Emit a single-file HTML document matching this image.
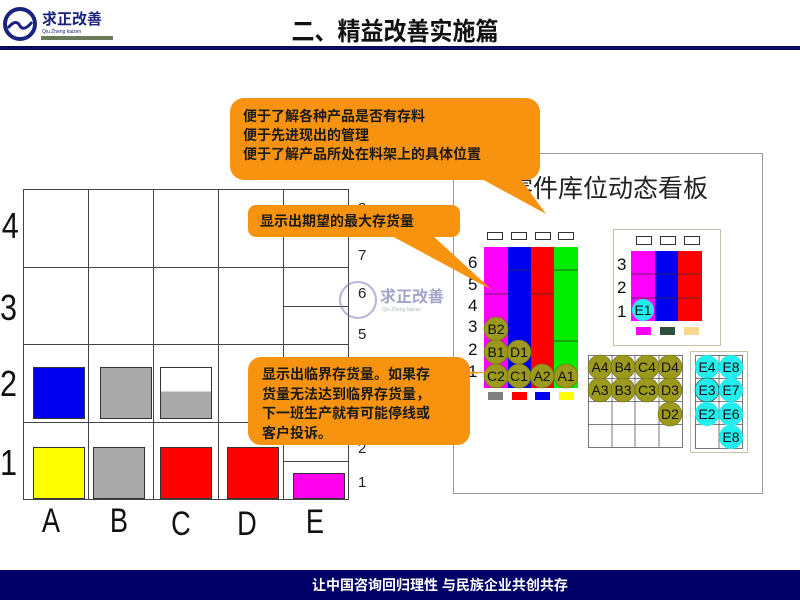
<!DOCTYPE html>
<html><head><meta charset="utf-8"><style>
html,body{margin:0;padding:0;background:#fff;}
svg{display:block;}
text{font-family:"Liberation Sans","Noto Sans CJK SC",sans-serif;}
</style></head><body>
<svg width="800" height="600" viewBox="0 0 800 600" xmlns="http://www.w3.org/2000/svg">
<!-- header -->
<circle cx="20" cy="24" r="15" fill="#fff" stroke="#1a237e" stroke-width="4"/>
<path d="M8 28 Q16 18 20 26 Q24 32 32 22" stroke="#1a237e" stroke-width="3" fill="none"/>
<text x="42" y="24" font-size="15" font-weight="bold" fill="#1a237e">求正改善</text>
<text x="42" y="33" font-size="5" fill="#1a237e">Qiu Zheng kaizen</text>
<rect x="41" y="36" width="72" height="4" fill="#6a7a5a"/>
<text x="395" y="40" font-size="25" font-weight="bold" text-anchor="middle" fill="#111" transform="translate(395 0) scale(0.92 1) translate(-395 0)">二、精益改善实施篇</text>
<rect x="0" y="46" width="800" height="4" fill="#0a0a5e"/>
<!-- footer -->
<rect x="0" y="570" width="800" height="30" fill="#000066"/>
<text x="440" y="590" font-size="14" font-weight="bold" text-anchor="middle" fill="#fff">让中国咨询回归理性  与民族企业共创共存</text>

<!-- left grid -->
<g stroke="#444" stroke-width="1" fill="none">
<rect x="23.5" y="189.5" width="325" height="310"/>
<line x1="88.5" y1="189" x2="88.5" y2="499"/>
<line x1="153.5" y1="189" x2="153.5" y2="499"/>
<line x1="218.5" y1="189" x2="218.5" y2="499"/>
<line x1="283.5" y1="189" x2="283.5" y2="499"/>
<line x1="23" y1="267.5" x2="348" y2="267.5"/>
<line x1="23" y1="344.5" x2="348" y2="344.5"/>
<line x1="23" y1="422.5" x2="348" y2="422.5"/>
<line x1="283" y1="306.5" x2="348" y2="306.5"/>
<line x1="283" y1="461.5" x2="348" y2="461.5"/>
</g>
<g stroke="#333" stroke-width="1">
<rect x="33.5" y="367.5" width="51" height="51" fill="#0000ee"/>
<rect x="100.5" y="367.5" width="51" height="51" fill="#aaaaaa"/>
<rect x="160.5" y="367.5" width="51" height="51" fill="#fff"/>
<rect x="160.5" y="391.5" width="51" height="27" fill="#aaaaaa" stroke="none"/>
<rect x="160.5" y="367.5" width="51" height="51" fill="none"/>
<rect x="33.5" y="447.5" width="51" height="51" fill="#ffff00"/>
<rect x="93.5" y="447.5" width="51" height="51" fill="#aaaaaa"/>
<rect x="160.5" y="447.5" width="51" height="51" fill="#ff0000"/>
<rect x="227.5" y="447.5" width="51" height="51" fill="#ff0000"/>
<rect x="293.5" y="473.5" width="51" height="25" fill="#ff00ee"/>
</g>
<g font-size="36" fill="#111" transform="scale(0.85 1)">
<text x="2" y="238">4</text><text x="0" y="320">3</text><text x="0" y="396">2</text><text x="0" y="475">1</text>
</g>
<g font-size="34" fill="#111" text-anchor="middle">
<text transform="translate(51 532) scale(0.8 1)">A</text>
<text transform="translate(119 532) scale(0.8 1)">B</text>
<text transform="translate(181 535) scale(0.8 1)">C</text>
<text transform="translate(247 535) scale(0.8 1)">D</text>
<text transform="translate(315 533) scale(0.8 1)">E</text>
</g>
<g font-size="15" fill="#222">
<text x="358" y="213">8</text><text x="358" y="260">7</text><text x="358" y="298">6</text><text x="358" y="339">5</text><text x="358" y="453">2</text><text x="358" y="487">1</text>
</g>
<!-- watermark -->
<g opacity="0.55">
<circle cx="358" cy="300" r="18" fill="none" stroke="#7a7ab8" stroke-width="2"/>
<text x="380" y="302" font-size="16" font-weight="bold" fill="#5a5aa0">求正改善</text>
<text x="382" y="311" font-size="5" fill="#6a7a8a">Qiu Zheng kaizen</text>
</g>

<!-- right panel -->
<rect x="453.5" y="153.5" width="309" height="340" fill="#fff" stroke="#999"/>
<text x="508" y="197" font-size="25" fill="#222" font-family="Liberation Serif,Noto Serif CJK SC,serif">零件库位动态看板</text>
<g fill="#fff" stroke="#333">
<rect x="487.5" y="232.5" width="15" height="7"/><rect x="511.5" y="232.5" width="15" height="7"/><rect x="535.5" y="232.5" width="15" height="7"/><rect x="558.5" y="232.5" width="15" height="7"/>
</g>
<rect x="484" y="247" width="24" height="141" fill="#ff00ff"/>
<rect x="508" y="247" width="23" height="141" fill="#0000ee"/>
<rect x="531" y="247" width="23" height="141" fill="#ff0000"/>
<rect x="554" y="247" width="24" height="141" fill="#00ee00"/>
<g stroke="#333" stroke-width="0.8">
<line x1="508" y1="270" x2="531" y2="270"/><line x1="554" y1="270" x2="578" y2="270"/>
<line x1="484" y1="294" x2="508" y2="294"/><line x1="531" y1="294" x2="554" y2="294"/>
<line x1="554" y1="341" x2="578" y2="341"/>
</g>
<g font-size="17" fill="#111">
<text x="468" y="268">6</text><text x="468" y="290">5</text><text x="468" y="311">4</text><text x="468" y="332">3</text><text x="468" y="355">2</text><text x="468" y="377">1</text>
</g>
<rect x="488" y="392" width="15" height="8" fill="#808080"/><rect x="512" y="392" width="15" height="8" fill="#ff0000"/><rect x="535" y="392" width="15" height="8" fill="#0000ee"/><rect x="559" y="392" width="15" height="8" fill="#ffff00"/>
<g fill="#9c9a1c" stroke="#6e6c10" stroke-width="0.6">
<circle cx="496" cy="329" r="12"/><circle cx="496" cy="352" r="12"/><circle cx="519" cy="352" r="12"/><circle cx="496" cy="376" r="12"/><circle cx="519" cy="376" r="12"/><circle cx="542" cy="376" r="12"/><circle cx="566" cy="376" r="12"/>
</g>
<g font-size="14" fill="#111" text-anchor="middle">
<text x="496" y="334">B2</text><text x="496" y="357">B1</text><text x="519" y="357">D1</text><text x="496" y="381">C2</text><text x="519" y="381">C1</text><text x="542" y="381">A2</text><text x="566" y="381">A1</text>
</g>

<!-- middle panel -->
<rect x="613.5" y="229.5" width="107" height="116" fill="#fff" stroke="#c8bfa8"/>
<g fill="#fff" stroke="#333">
<rect x="636.5" y="236.5" width="15" height="8"/><rect x="660.5" y="236.5" width="15" height="8"/><rect x="684.5" y="236.5" width="15" height="8"/>
</g>
<rect x="631" y="251" width="24" height="70" fill="#ff00ff"/>
<rect x="655" y="251" width="23" height="70" fill="#0000ee"/>
<rect x="678" y="251" width="24" height="70" fill="#ff0000"/>
<g stroke="#333" stroke-width="0.8"><line x1="631" y1="274" x2="702" y2="274"/><line x1="631" y1="298" x2="702" y2="298"/></g>
<g font-size="17" fill="#111"><text x="617" y="270">3</text><text x="617" y="293">2</text><text x="617" y="317">1</text></g>
<circle cx="643" cy="310" r="11" fill="#22eeee"/>
<text x="643" y="315" font-size="14" text-anchor="middle" fill="#111">E1</text>
<rect x="636" y="327" width="15" height="8" fill="#ff00ff"/><rect x="660" y="327" width="15" height="8" fill="#2f4f3f"/><rect x="684" y="327" width="15" height="8" fill="#f8d890"/>

<!-- lower grid -->
<g stroke="#555" fill="none" stroke-width="0.8">
<rect x="588.5" y="355.5" width="94" height="92"/>
<line x1="612" y1="355" x2="612" y2="447"/><line x1="635" y1="355" x2="635" y2="447"/><line x1="659" y1="355" x2="659" y2="447"/>
<line x1="588" y1="378.5" x2="682" y2="378.5"/><line x1="588" y1="401.5" x2="682" y2="401.5"/><line x1="588" y1="424.5" x2="682" y2="424.5"/>
</g>
<g fill="#9c9a1c" stroke="#6e6c10" stroke-width="0.6">
<circle cx="600" cy="367" r="12"/><circle cx="623" cy="367" r="12"/><circle cx="647" cy="367" r="12"/><circle cx="670" cy="367" r="12"/>
<circle cx="600" cy="390" r="12"/><circle cx="623" cy="390" r="12"/><circle cx="647" cy="390" r="12"/><circle cx="670" cy="390" r="12"/>
<circle cx="670" cy="414" r="12"/>
</g>
<g font-size="14" fill="#111" text-anchor="middle">
<text x="600" y="372">A4</text><text x="623" y="372">B4</text><text x="647" y="372">C4</text><text x="670" y="372">D4</text>
<text x="600" y="395">A3</text><text x="623" y="395">B3</text><text x="647" y="395">C3</text><text x="670" y="395">D3</text>
<text x="670" y="419">D2</text>
</g>
<rect x="690.5" y="351.5" width="57" height="101" fill="#fff" stroke="#c8bfa8"/>
<g stroke="#555" fill="none" stroke-width="0.8">
<rect x="695.5" y="355.5" width="47" height="93"/>
<line x1="719" y1="355" x2="719" y2="448"/>
<line x1="695" y1="378.5" x2="742" y2="378.5"/><line x1="695" y1="401.5" x2="742" y2="401.5"/><line x1="695" y1="424.5" x2="742" y2="424.5"/>
</g>
<g fill="#22eeee">
<circle cx="707" cy="367" r="12"/><circle cx="731" cy="367" r="12"/><circle cx="707" cy="390" r="12" stroke="#333" stroke-width="0.6"/><circle cx="731" cy="390" r="12"/><circle cx="707" cy="414" r="12"/><circle cx="731" cy="414" r="12"/><circle cx="731" cy="437" r="12"/>
</g>
<g font-size="14" fill="#111" text-anchor="middle">
<text x="707" y="372">E4</text><text x="731" y="372">E8</text><text x="707" y="395">E3</text><text x="731" y="395">E7</text><text x="707" y="419">E2</text><text x="731" y="419">E6</text><text x="731" y="442">E8</text>
</g>

<!-- callouts -->
<g fill="#f7930f">
<rect x="230" y="98" width="310" height="82" rx="14"/>
<polygon points="480,178 520,178 546,214"/>
<rect x="248" y="205" width="212" height="32" rx="8"/>
<polygon points="390,235 432,235 492,290"/>
<rect x="248" y="357" width="222" height="88" rx="13"/>
<polygon points="300,370 470,372 470,392 300,390 492,372"/>
</g>
<g font-size="14" font-weight="bold" fill="#1a1a1a">
<text x="243" y="121">便于了解各种产品是否有存料</text>
<text x="243" y="140">便于先进现出的管理</text>
<text x="243" y="159">便于了解产品所处在料架上的具体位置</text>
<text x="260" y="226">显示出期望的最大存货量</text>
<text x="262" y="379">显示出临界存货量。如果存</text>
<text x="262" y="399">货量无法达到临界存货量，</text>
<text x="262" y="418">下一班生产就有可能停线或</text>
<text x="262" y="438">客户投诉。</text>
</g>
</svg>
</body></html>
